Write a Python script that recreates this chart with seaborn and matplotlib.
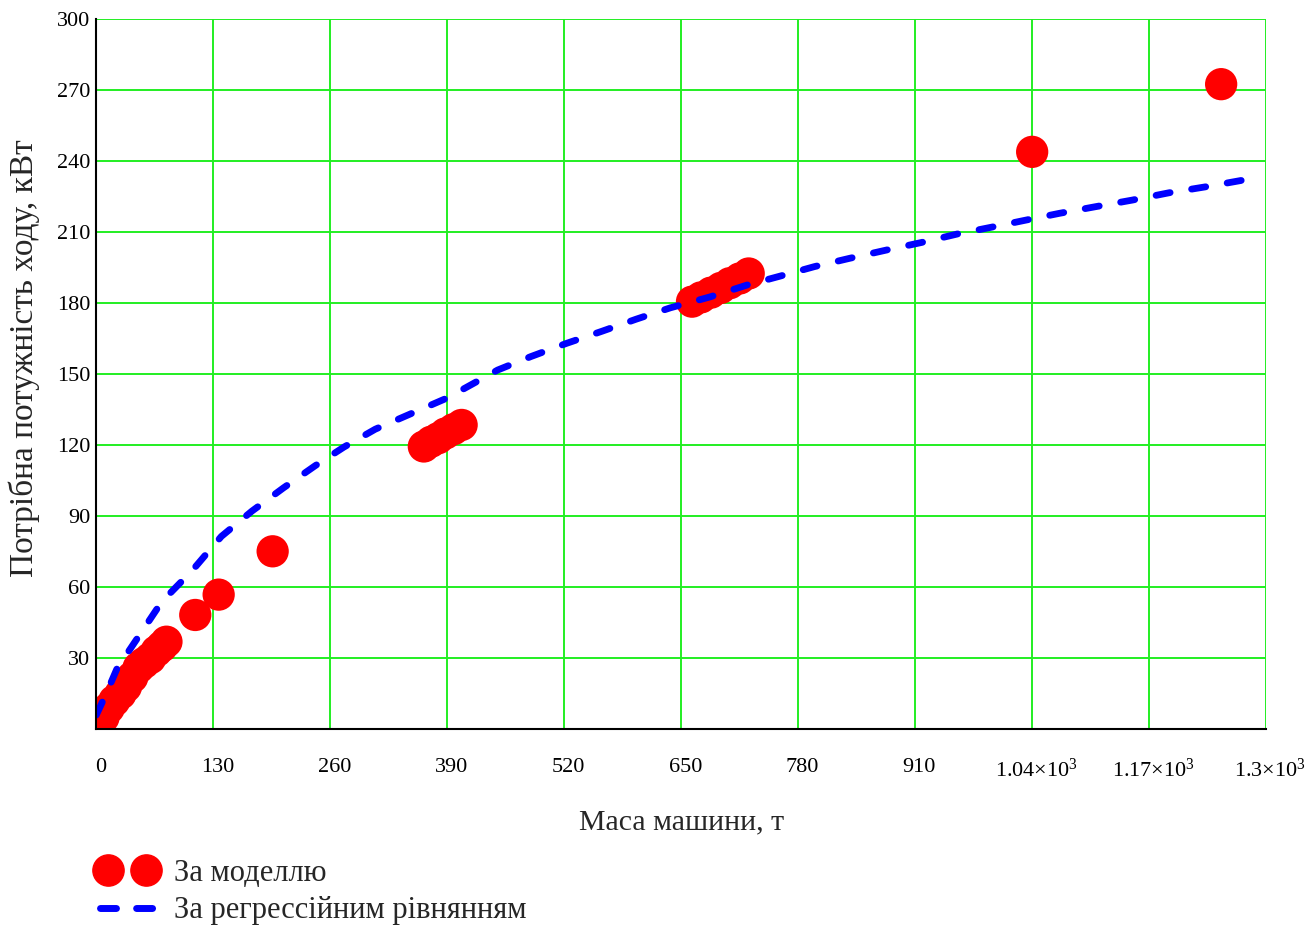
import matplotlib
matplotlib.use("Agg")
import matplotlib.pyplot as plt
import matplotlib.transforms as mtransforms
from matplotlib.lines import Line2D
from matplotlib.legend_handler import HandlerLine2D
import seaborn as sns
import pandas as pd

# Model results: machine mass (t) vs required travel power (kW)
model_mass = [3, 8, 14, 20, 27, 33, 40, 47, 53, 60, 67, 73, 78,
              110, 136, 196,
              364, 372, 380, 388, 397, 406,
              662, 672, 683, 694, 704, 715, 725,
              1040, 1250]
model_power = [3, 5, 9, 12, 15, 18, 22, 26, 28, 30, 33, 35, 37,
               48.3, 56.9, 75.2,
               119.5, 121.5, 123, 125, 126.8, 128.6,
               180.7, 182.5, 184.5, 186.5, 188.5, 190.5, 192.6,
               244, 272.6]

# Regression equation curve
reg_mass = [0, 11, 23, 47, 73, 106, 139, 173, 208, 243, 275, 310, 390,
            446, 483, 522, 562, 600, 638, 682, 723, 760, 798, 837, 878,
            917, 957, 994, 1031, 1070, 1110, 1151, 1192, 1234, 1275, 1287]
reg_power = [6, 15, 25.6, 39.2, 54.0, 66.8, 81.5, 92.2, 102, 111.3, 119.2,
             126.8, 140, 151.8, 157.5, 163, 168.2, 173.3, 178.1, 182.7,
             187.7, 191.5, 195.5, 199, 202.5, 205.7, 209.3, 212.1, 215, 218,
             220.8, 223.6, 226.7, 229.3, 232.1, 233.4]

x_ticks = [0, 130, 260, 390, 520, 650, 780, 910, 1040, 1170, 1300]
x_tick_labels = ["0", "130", "260", "390", "520", "650", "780", "910",
                 r"1.04$\times$10$^{3}$", r"1.17$\times$10$^{3}$", r"1.3$\times$10$^{3}$"]
y_ticks = [0, 30, 60, 90, 120, 150, 180, 210, 240, 270, 300]
y_tick_labels = ["", "30", "60", "90", "120", "150", "180", "210", "240", "270", "300"]

sns.set_style("white")
plt.rcParams["font.family"] = ["Liberation Serif", "DejaVu Serif"]
plt.rcParams["mathtext.fontset"] = "custom"
plt.rcParams["mathtext.rm"] = "Liberation Serif"
plt.rcParams["mathtext.it"] = "Liberation Serif:italic"

RED = "#FF0000"
BLUE = "#0000FF"
GREEN = "#22EE22"

fig = plt.figure(figsize=(13.08, 9.25), dpi=100)
ax = fig.add_axes([0.0736, 0.2116, 0.8944, 0.7675])

df_model = pd.DataFrame({"mass": model_mass, "power": model_power})
df_reg = pd.DataFrame({"mass": reg_mass, "power": reg_power})

sns.scatterplot(data=df_model, x="mass", y="power", ax=ax, s=540,
                color=RED, edgecolor="none", linewidth=0, zorder=3, legend=False)
sns.lineplot(data=df_reg, x="mass", y="power", ax=ax, sort=False,
             estimator=None, color=BLUE, linewidth=4.9, zorder=4, legend=False)
reg_line = ax.get_lines()[-1]
reg_line.set_dashes((2.1, 3.2))
reg_line.set_dash_capstyle("round")

ax.set_xlim(0, 1300)
ax.set_ylim(0, 300)
ax.set_xticks(x_ticks)
ax.set_xticklabels(x_tick_labels)
ax.set_yticks(y_ticks)
ax.set_yticklabels(y_tick_labels)

ax.grid(True, color=GREEN, linewidth=1.4)
ax.set_axisbelow(True)
for side in ("top", "right"):
    ax.spines[side].set_visible(False)
for side in ("left", "bottom"):
    ax.spines[side].set_color("black")
    ax.spines[side].set_linewidth(1.5)
    ax.spines[side].set_zorder(5)

ax.tick_params(axis="x", direction="inout", length=8, width=1.3,
               labelsize=16, pad=17, colors="black")
ax.tick_params(axis="y", direction="inout", length=9, width=1.3,
               labelsize=16, pad=0, colors="black")

# x tick labels sit a little to the right of their ticks
shift = mtransforms.ScaledTranslation(4 / 100, 0, fig.dpi_scale_trans)
for lbl in ax.get_xticklabels():
    lbl.set_transform(lbl.get_transform() + shift)

ax.set_xlabel("Маса машини, т", fontsize=21.5, labelpad=20)
ax.set_ylabel("Потрібна потужність ходу, кВт", fontsize=24)
ax.yaxis.set_label_coords(-0.048, 0.522)

dot_handle = Line2D([], [], linestyle="none", marker="o", markersize=22.5,
                    markerfacecolor=RED, markeredgecolor=RED)
dash_handle = Line2D([], [], color=BLUE, linewidth=5, dashes=(2.3, 2.9),
                     dash_capstyle="round")
fig.legend([dot_handle, dash_handle], ["За моделлю", "За регрессійним рівнянням"],
           loc="upper left", bbox_to_anchor=(0.0742, 0.0715), frameon=False,
           fontsize=22, numpoints=2, handlelength=1.96, handletextpad=0.55,
           labelspacing=0.28, borderaxespad=0, borderpad=0,
           handler_map={dot_handle: HandlerLine2D(marker_pad=0.36),
                        dash_handle: HandlerLine2D(marker_pad=0.1)})

fig.savefig("out.png", dpi=100)
